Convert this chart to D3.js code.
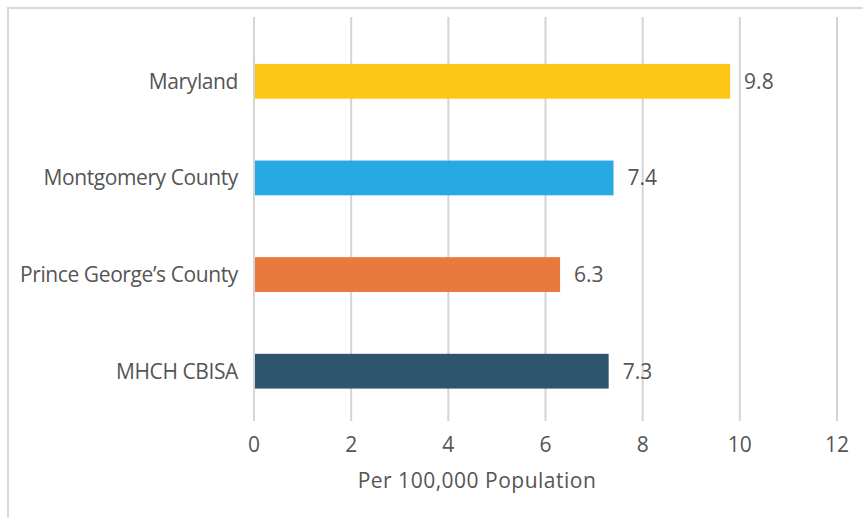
<!DOCTYPE html>
<html>
<head>
<meta charset="utf-8">
<script src="https://cdn.jsdelivr.net/npm/d3@7"></script>
<style>
  body { margin: 0; background: #fff; }
  svg { display: block; font-family: "Open Sans", "Noto Sans", sans-serif; }
</style>
</head>
<body>
<svg id="chart" width="863" height="518"></svg>
<script>
// chart data
const categories = ["Maryland", "Montgomery County", "Prince George\u2019s County", "MHCH CBISA"];
const values = [9.8, 7.4, 6.3, 7.3];
const barColors = ["#FDC516", "#27A9E1", "#E87A3E", "#2E556E"];
const xTicks = [0, 2, 4, 6, 8, 10, 12];
const xTitle = "Per 100,000 Population";

const svg = d3.select("#chart");
const width = 863, height = 518;
const textColor = "#555555";
const fontSize = "21px", fontWeight = 500;

// outer frame (runs off right/bottom edges like the source)
svg.append("rect")
    .attr("x", 8).attr("y", 8)
    .attr("width", width + 10).attr("height", height + 10)
    .attr("fill", "none").attr("stroke", "#d9d9d9").attr("stroke-width", 2);

const x = d3.scaleLinear().domain([0, 12]).range([254, 837]);
const y = d3.scaleBand().domain(categories).range([33, 419.5]).paddingInner(0.64).paddingOuter(0.32);

// vertical gridlines
svg.append("g").selectAll("line")
    .data(xTicks)
    .join("line")
    .attr("x1", d => x(d)).attr("x2", d => x(d))
    .attr("y1", 17).attr("y2", 421)
    .attr("stroke", "#d4d4d4").attr("stroke-width", 2);

// x tick labels
svg.append("g").selectAll("text")
    .data(xTicks)
    .join("text")
    .attr("x", d => x(d)).attr("y", 452)
    .attr("text-anchor", "middle")
    .attr("fill", textColor)
    .style("font-size", fontSize).style("font-weight", fontWeight)
    .text(d => d);

// bars
const rows = categories.map((c, i) => ({ name: c, value: values[i], color: barColors[i] }));
svg.append("g").selectAll("rect")
    .data(rows)
    .join("rect")
    .attr("x", x(0) + 1)
    .attr("y", d => y(d.name))
    .attr("height", y.bandwidth())
    .attr("width", d => x(d.value) - x(0) - 1)
    .attr("fill", d => d.color);

// value labels
svg.append("g").selectAll("text")
    .data(rows)
    .join("text")
    .attr("x", d => x(d.value) + 14)
    .attr("y", d => y(d.name) + y.bandwidth() / 2)
    .attr("dy", "0.36em")
    .attr("fill", textColor)
    .style("font-size", fontSize).style("font-weight", fontWeight)
    .text(d => d.value.toFixed(1));

// category labels
svg.append("g").selectAll("text")
    .data(rows)
    .join("text")
    .attr("x", 238)
    .attr("y", d => y(d.name) + y.bandwidth() / 2)
    .attr("dy", "0.36em")
    .attr("text-anchor", "end")
    .attr("fill", textColor)
    .style("font-size", fontSize).style("font-weight", fontWeight)
    .style("letter-spacing", "-0.4px")
    .text(d => d.name);

// axis title
svg.append("text")
    .attr("x", 477).attr("y", 488)
    .attr("text-anchor", "middle")
    .attr("fill", textColor)
    .style("font-size", fontSize).style("font-weight", fontWeight)
    .style("letter-spacing", "0.5px")
    .text(xTitle);
</script>
</body>
</html>
